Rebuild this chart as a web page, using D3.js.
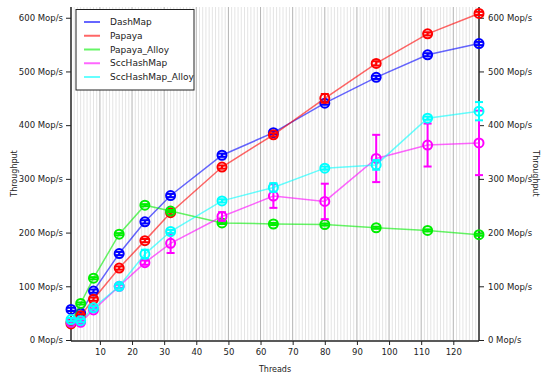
<!DOCTYPE html>
<html>
<head>
<meta charset="utf-8">
<script src="https://cdn.jsdelivr.net/npm/d3@7"></script>
<style>
  body { margin: 0; background: #fff; }
  text { font-family: "DejaVu Sans", sans-serif; fill: #222; }
</style>
</head>
<body>
<div id="chart"></div>
<script>
// thread counts on x
const threads = [1, 4, 8, 16, 24, 32, 48, 64, 80, 96, 112, 128];

// throughput (Mop/s) per map
const dashMap         = [57, 50, 91, 161, 220, 269, 344, 386, 441, 489, 531, 552];
const papaya          = [30, 45, 76, 134, 185, 237, 322, 382, 450, 515, 570, 608];
const papayaAlloy     = [33, 68, 115, 197, 251, 240, 218, 216, 215, 209, 204, 196];
const sccHashMap      = [33, 33, 56, 100, 144, 180, 230, 268, 258, 338, 363, 367];
const sccHashMapAlloy = [38, 36, 60, 100, 160, 202, 259, 284, 320, 326, 413, 426];

// half width of the error bars
const dashMapErr         = [3, 3, 3, 3, 3, 3, 3, 3, 3, 3, 3, 3];
const papayaErr          = [3, 3, 3, 3, 3, 3, 3, 3, 8, 4, 3, 3];
const papayaAlloyErr     = [2, 2, 2, 2, 2, 2, 2, 2, 2, 2, 2, 2];
const sccHashMapErr      = [3, 3, 3, 3, 4, 18, 8, 22, 33, 44, 40, 60];
const sccHashMapAlloyErr = [3, 3, 3, 4, 8, 3, 3, 8, 3, 9, 3, 17];

const seriesNames = ["DashMap", "Papaya", "Papaya_Alloy", "SccHashMap", "SccHashMap_Alloy"];
const seriesColors = ["#0000ff", "#ff0000", "#00ee00", "#ff00ff", "#00ffff"];
const seriesValues = [dashMap, papaya, papayaAlloy, sccHashMap, sccHashMapAlloy];
const seriesErrs = [dashMapErr, papayaErr, papayaAlloyErr, sccHashMapErr, sccHashMapAlloyErr];

const yTicks = [0, 100, 200, 300, 400, 500, 600];
const xTicks = [10, 20, 30, 40, 50, 60, 70, 80, 90, 100, 110, 120];

const W = 541, H = 375;
const pLeft = 71, pRight = 479, pTop = 7, pBottom = 340;

const svg = d3.select("#chart").append("svg")
    .attr("width", W)
    .attr("height", H);

svg.append("rect").attr("width", W).attr("height", H).attr("fill", "#fff");

const x = d3.scaleLinear().domain([1, 128]).range([pLeft, pRight]);
const y = d3.scaleLinear().domain([0, 620]).range([pBottom, pTop]);

// vertical mesh, one line per thread, darker every 10
const grid = svg.append("g");
grid.selectAll("line.minor")
    .data(d3.range(2, 128))
    .join("line")
    .attr("x1", d => x(d)).attr("x2", d => x(d))
    .attr("y1", pTop).attr("y2", pBottom)
    .attr("stroke", d => d % 10 === 0 ? "#b4b4b4" : "#e4e4e4")
    .attr("stroke-width", 1);

// axes
const fmt = d => d + " Mop/s";
svg.append("g")
    .attr("transform", `translate(${pLeft},0)`)
    .call(d3.axisLeft(y).tickValues(yTicks).tickFormat(fmt).tickSize(5).tickPadding(3))
    .call(g => g.select(".domain").attr("stroke-width", 1.5).attr("d", `M0,${pTop}V${pBottom + 1}`));

svg.append("g")
    .attr("transform", `translate(${pRight},0)`)
    .call(d3.axisRight(y).tickValues(yTicks).tickFormat(fmt).tickSize(5).tickPadding(4))
    .call(g => g.select(".domain").attr("stroke-width", 1.5).attr("d", `M0,${pTop}V${pBottom + 1}`));

svg.append("g")
    .attr("transform", `translate(0,${pBottom + 1})`)
    .call(d3.axisBottom(x).tickValues(xTicks).tickSize(4).tickPadding(4))
    .call(g => g.select(".domain").attr("stroke-width", 1.5).attr("d", `M${pLeft},0H${pRight}`));

svg.selectAll(".tick text")
    .attr("font-size", 8.5)
    .attr("font-family", "DejaVu Sans")
    .attr("fill", "#222");
svg.selectAll(".tick line").attr("stroke", "#222");
svg.selectAll(".domain").attr("stroke", "#222");

// axis titles
svg.append("text")
    .attr("x", (pLeft + pRight) / 2).attr("y", 372)
    .attr("text-anchor", "middle")
    .attr("font-size", 8)
    .text("Threads");

svg.append("text")
    .attr("transform", `translate(17,${(pTop + pBottom) / 2}) rotate(-90)`)
    .attr("text-anchor", "middle")
    .attr("font-size", 8)
    .text("Throughput");

svg.append("text")
    .attr("transform", `translate(533,${(pTop + pBottom) / 2}) rotate(90)`)
    .attr("text-anchor", "middle")
    .attr("font-size", 8)
    .text("Throughput");

// series
const line = d3.line().x((d, i) => x(threads[i])).y(d => y(d));

seriesValues.forEach((vals, s) => {
    const col = seriesColors[s];
    const errs = seriesErrs[s];
    const g = svg.append("g");

    g.append("path")
        .datum(vals)
        .attr("d", line)
        .attr("fill", "none")
        .attr("stroke", col)
        .attr("stroke-opacity", 0.6)
        .attr("stroke-width", 1.5);

    const pts = g.selectAll("g.pt")
        .data(vals.map((v, i) => ({ t: threads[i], v: v, e: errs[i] })))
        .join("g");

    // error bars
    pts.append("line")
        .attr("x1", d => x(d.t)).attr("x2", d => x(d.t))
        .attr("y1", d => y(d.v - d.e)).attr("y2", d => y(d.v + d.e))
        .attr("stroke", col).attr("stroke-width", 2);
    pts.append("line")
        .attr("x1", d => x(d.t) - 4).attr("x2", d => x(d.t) + 4)
        .attr("y1", d => y(d.v - d.e)).attr("y2", d => y(d.v - d.e))
        .attr("stroke", col).attr("stroke-width", 2);
    pts.append("line")
        .attr("x1", d => x(d.t) - 4).attr("x2", d => x(d.t) + 4)
        .attr("y1", d => y(d.v + d.e)).attr("y2", d => y(d.v + d.e))
        .attr("stroke", col).attr("stroke-width", 2);

    pts.append("circle")
        .attr("cx", d => x(d.t))
        .attr("cy", d => y(d.v))
        .attr("r", 4.5)
        .attr("fill", "none")
        .attr("stroke", col)
        .attr("stroke-width", 2);
});

// legend
const lg = svg.append("g");
lg.append("rect")
    .attr("x", 76).attr("y", 9.5)
    .attr("width", 118).attr("height", 80.5)
    .attr("fill", "#fff")
    .attr("stroke", "#222")
    .attr("stroke-width", 1);

seriesNames.forEach((name, i) => {
    const ly = 22 + i * 13.75;
    lg.append("line")
        .attr("x1", 84).attr("x2", 100)
        .attr("y1", ly).attr("y2", ly)
        .attr("stroke", seriesColors[i])
        .attr("stroke-opacity", 0.6)
        .attr("stroke-width", 2);
    lg.append("text")
        .attr("x", 110).attr("y", ly)
        .attr("dy", "0.35em")
        .attr("font-size", 9)
        .text(name);
});
</script>
</body>
</html>
